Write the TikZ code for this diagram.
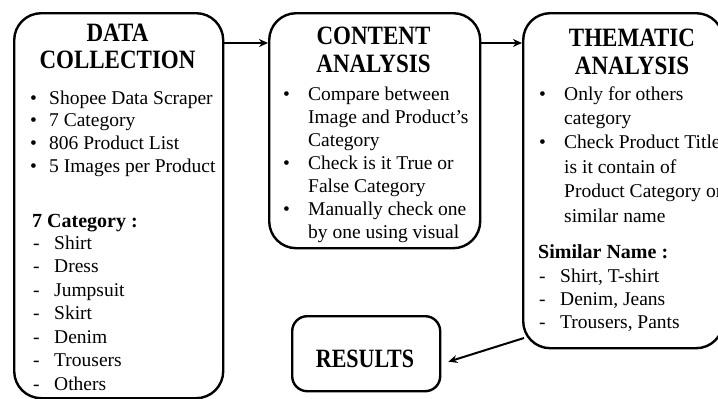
\documentclass[tikz,border=0pt]{standalone}
\usepackage{fontspec}
\setmainfont{Liberation Serif}
\usetikzlibrary{arrows.meta}
\newcommand\tallt[2]{\scalebox{1}[#1]{#2}}
\begin{document}
\begin{tikzpicture}[x=1pt,y=-1pt,
  box/.style={draw, line width=2.4pt, rounded corners=27pt, inner sep=0pt, anchor=north west},
  ttl/.style={font=\fontsize{23}{29}\selectfont\bfseries, inner sep=0pt, anchor=base},
  txt/.style={font=\fontsize{19.5}{23}\selectfont, inner sep=0pt, anchor=base west},
  sub/.style={font=\fontsize{20}{23}\selectfont\bfseries, inner sep=0pt, anchor=base west},
  arr/.style={line width=2pt, -{Stealth[length=9pt,width=8pt]}}]
\useasboundingbox (0,0) rectangle (718,399);
\clip (0,0) rectangle (718,399);
% boxes
\node[box, minimum width=209pt, minimum height=385pt] (b1) at (13,12) {};
\node[box, minimum width=211pt, minimum height=235pt] (b2) at (268,12) {};
\node[box, minimum width=200pt, minimum height=335pt] (b3) at (522,12) {};
\node[box, rounded corners=15pt, minimum width=148pt, minimum height=75pt] (r) at (291,315) {};
% box 1
\node[ttl] (t1a) at (117.5,41) {\tallt{1.15}{DATA}};
\node[ttl] (t1b) at (117.5,68) {\tallt{1.15}{COLLECTION}};
\foreach \s [count=\i] in {Shopee Data Scraper, 7 Category, 806 Product List, 5 Images per Product}{
  \node[txt] (a1-\i) at (49,{104+22.7*(\i-1)}) {\s};
  \node[txt] (p1-\i) at (30,{104+22.7*(\i-1)}) {•};
}
\node[sub] (s1) at (32,227) {7 Category :};
\foreach \s [count=\i] in {Shirt, Dress, Jumpsuit, Skirt, Denim, Trousers, Others}{
  \node[txt] (c1-\i) at (54,{249+23.5*(\i-1)}) {\s};
  \node[txt] (h1-\i) at (33,{249+23.5*(\i-1)}) {-};
}
% box 2
\node[ttl] (t2a) at (373.5,44) {\tallt{1.15}{CONTENT}};
\node[ttl] (t2b) at (373.5,72) {\tallt{1.15}{ANALYSIS}};
\foreach \s [count=\i] in {Compare between, Image and Product’s, Category, Check is it True or, False Category, Manually check one, by one using visual}{
  \node[txt] (a2-\i) at (308,{100+23*(\i-1)}) {\s};
}
\foreach \i/\y in {1/100, 2/169, 3/215}{
  \node[txt] (p2-\i) at (283,\y) {•};
}
% box 3
\node[ttl] (t3a) at (632,46) {\tallt{1.15}{THEMATIC}};
\node[ttl] (t3b) at (632,74) {\tallt{1.15}{ANALYSIS}};
\foreach \s [count=\i] in {Only for others, category, Check Product Title, is it contain of, Product Category or, similar name}{
  \node[txt] (a3-\i) at (564,{100+24.4*(\i-1)}) {\s};
}
\foreach \i/\y in {1/100, 2/148.8}{
  \node[txt] (p3-\i) at (539,\y) {•};
}
\node[sub] (s3) at (538,258) {Similar Name :};
\foreach \s [count=\i] in {{Shirt, T-shirt}, {Denim, Jeans}, {Trousers, Pants}}{
  \node[txt] (c3-\i) at (560,{282+23*(\i-1)}) {\s};
  \node[txt] (h3-\i) at (539,{282+23*(\i-1)}) {-};
}
% results
\node[font=\fontsize{22}{26}\selectfont\bfseries, inner sep=0pt, anchor=base] (rt) at (365,367) {\tallt{1.2}{RESULTS}};
% connectors
\draw[arr] ([yshift=-31pt]b1.north east) -- ([yshift=-31pt]b2.north west);
\draw[arr] ([yshift=-31pt]b2.north east) -- ([yshift=-31pt]b3.north west);
\coordinate (c3out) at (524,338);
\draw[arr] (c3out) -- ([xshift=7pt,yshift=-8pt]r.east);
\end{tikzpicture}
\end{document}
